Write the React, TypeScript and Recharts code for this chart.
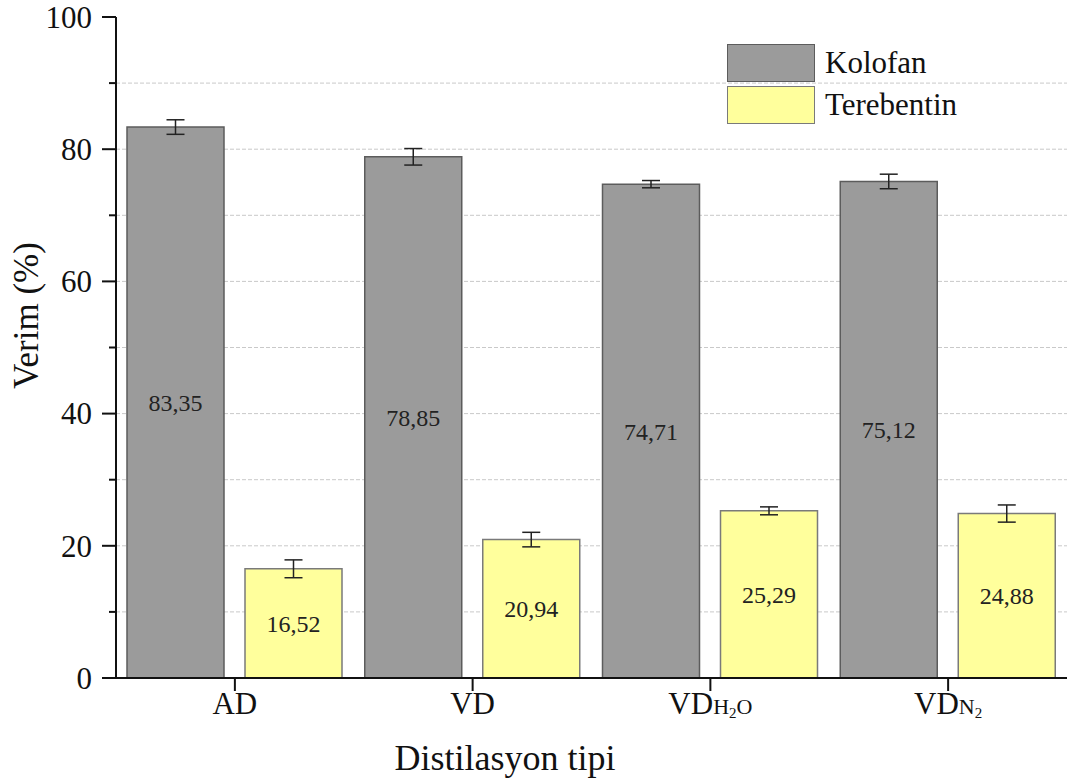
import React from 'react';
import { BarChart, Bar, XAxis, YAxis, CartesianGrid, ErrorBar, LabelList, Legend, Label } from 'recharts';

const categories = ['AD', 'VD', 'VDH2O', 'VDN2'];
const kolofan = [83.35, 78.85, 74.71, 75.12];
const kolofanErr = [1.1, 1.25, 0.55, 1.1];
const terebentin = [16.52, 20.94, 25.29, 24.88];
const terebentinErr = [1.35, 1.1, 0.6, 1.3];
const seriesNames = ['Kolofan', 'Terebentin'];
const seriesColors = ['#9b9b9b', '#ffff9c'];
const seriesStrokes = ['#5c5c5c', '#7a7a7a'];
const yTicks = [0, 10, 20, 30, 40, 50, 60, 70, 80, 90, 100];
const gridValues = [10, 20, 30, 40, 50, 60, 70, 80, 90];
const yLabel = 'Verim (%)';
const xLabel = 'Distilasyon tipi';

const data = categories.map((c, i) => ({
  name: c,
  kolofan: kolofan[i],
  kolofanErr: kolofanErr[i],
  terebentin: terebentin[i],
  terebentinErr: terebentinErr[i],
}));

const FONT = '"Liberation Serif", "Times New Roman", serif';

const fmt = (v: any) => Number(v).toFixed(2).replace('.', ',');

const YTick = (props: any) => {
  const { x, y, payload } = props;
  const v = payload.value;
  const major = v % 20 === 0;
  return (
    <g>
      <line x1={x - (major ? 14 : 7)} x2={x} y1={y} y2={y} stroke="#111" strokeWidth={2} />
      {major && (
        <text x={x - 24} y={y} dy="0.35em" textAnchor="end" fontFamily={FONT} fontSize={31} fill="#111">
          {v}
        </text>
      )}
    </g>
  );
};

const XTick = (props: any) => {
  const { x, y, payload } = props;
  const s: string = payload.value;
  const main = s.slice(0, 2);
  const rest = s.slice(2).split('');
  const parts: any[] = [];
  let shifted = false;
  rest.forEach((ch, i) => {
    if (/[0-9]/.test(ch)) {
      parts.push(
        <tspan key={i} fontSize={15} dy={4}>
          {ch}
        </tspan>
      );
      shifted = true;
    } else {
      parts.push(
        <tspan key={i} fontSize={22} dy={shifted ? -4 : 0}>
          {ch}
        </tspan>
      );
      shifted = false;
    }
  });
  return (
    <g>
      <line x1={x} x2={x} y1={y} y2={y + 13} stroke="#111" strokeWidth={2} />
      <text x={x} y={y + 36} textAnchor="middle" fontFamily={FONT} fontSize={31} fill="#111">
        <tspan>{main}</tspan>
        {parts}
      </text>
    </g>
  );
};

const LegendContent = () => (
  <div style={{ fontFamily: FONT }}>
    {seriesNames.map((n, i) => (
      <div key={n} style={{ display: 'flex', alignItems: 'center', height: 38, marginBottom: 4 }}>
        <div
          style={{
            width: 86,
            height: 36,
            background: seriesColors[i],
            border: `1.5px solid ${seriesStrokes[i]}`,
          }}
        />
        <span style={{ marginLeft: 10, fontSize: 31, color: '#111' }}>{n}</span>
      </div>
    ))}
  </div>
);

export default function App() {
  return (
    <div style={{ position: 'absolute', left: 0, top: 0, width: 1068, height: 784, background: '#fff' }}>
      <BarChart
        width={1068}
        height={784}
        data={data}
        margin={{ top: 17, right: 1, left: 0, bottom: 0 }}
        barSize={97}
        barGap={21}
      >
        <CartesianGrid vertical={false} horizontalValues={gridValues} stroke="#c9c9c9" strokeDasharray="4 2" />
        <XAxis
          dataKey="name"
          height={106}
          tickSize={0}
          tickMargin={0}
          tickLine={false}
          axisLine={{ stroke: '#111', strokeWidth: 2 }}
          tick={<XTick />}
          interval={0}
        >
          <Label
            content={(p: any) => {
              const vb = p.viewBox;
              return (
                <text x={505} y={vb.y + 92} textAnchor="middle" fontFamily={FONT} fontSize={36} fill="#111">
                  {xLabel}
                </text>
              );
            }}
          />
        </XAxis>
        <YAxis
          width={116}
          domain={[0, 100]}
          ticks={yTicks}
          interval={0}
          tickSize={0}
          tickMargin={0}
          tickLine={false}
          axisLine={{ stroke: '#111', strokeWidth: 2 }}
          tick={<YTick />}
        >
          <Label
            content={(p: any) => {
              const vb = p.viewBox;
              const cx = vb.x + 26;
              const cy = vb.y + vb.height / 2 - 32;
              return (
                <text
                  x={cx}
                  y={cy}
                  textAnchor="middle"
                  dominantBaseline="central"
                  transform={`rotate(-90, ${cx}, ${cy})`}
                  fontFamily={FONT}
                  fontSize={35}
                  fill="#111"
                >
                  {yLabel}
                </text>
              );
            }}
          />
        </YAxis>
        <Legend
          layout="vertical"
          align="center"
          verticalAlign="middle"
          content={<LegendContent />}
          wrapperStyle={{ position: 'absolute', left: 727, top: 44, width: 300, height: 84 }}
        />
        <Bar
          dataKey="kolofan"
          name={seriesNames[0]}
          fill={seriesColors[0]}
          stroke={seriesStrokes[0]}
          strokeWidth={1.5}
          isAnimationActive={false}
        >
          <ErrorBar dataKey="kolofanErr" width={9} stroke="#222" strokeWidth={1.5} direction="y" />
          <LabelList dataKey="kolofan" position="center" formatter={fmt} fill="#222" fontSize={24} fontFamily={FONT} />
        </Bar>
        <Bar
          dataKey="terebentin"
          name={seriesNames[1]}
          fill={seriesColors[1]}
          stroke={seriesStrokes[1]}
          strokeWidth={1.5}
          isAnimationActive={false}
        >
          <ErrorBar dataKey="terebentinErr" width={9} stroke="#222" strokeWidth={1.5} direction="y" />
          <LabelList dataKey="terebentin" position="center" formatter={fmt} fill="#222" fontSize={24} fontFamily={FONT} />
        </Bar>
      </BarChart>
    </div>
  );
}
